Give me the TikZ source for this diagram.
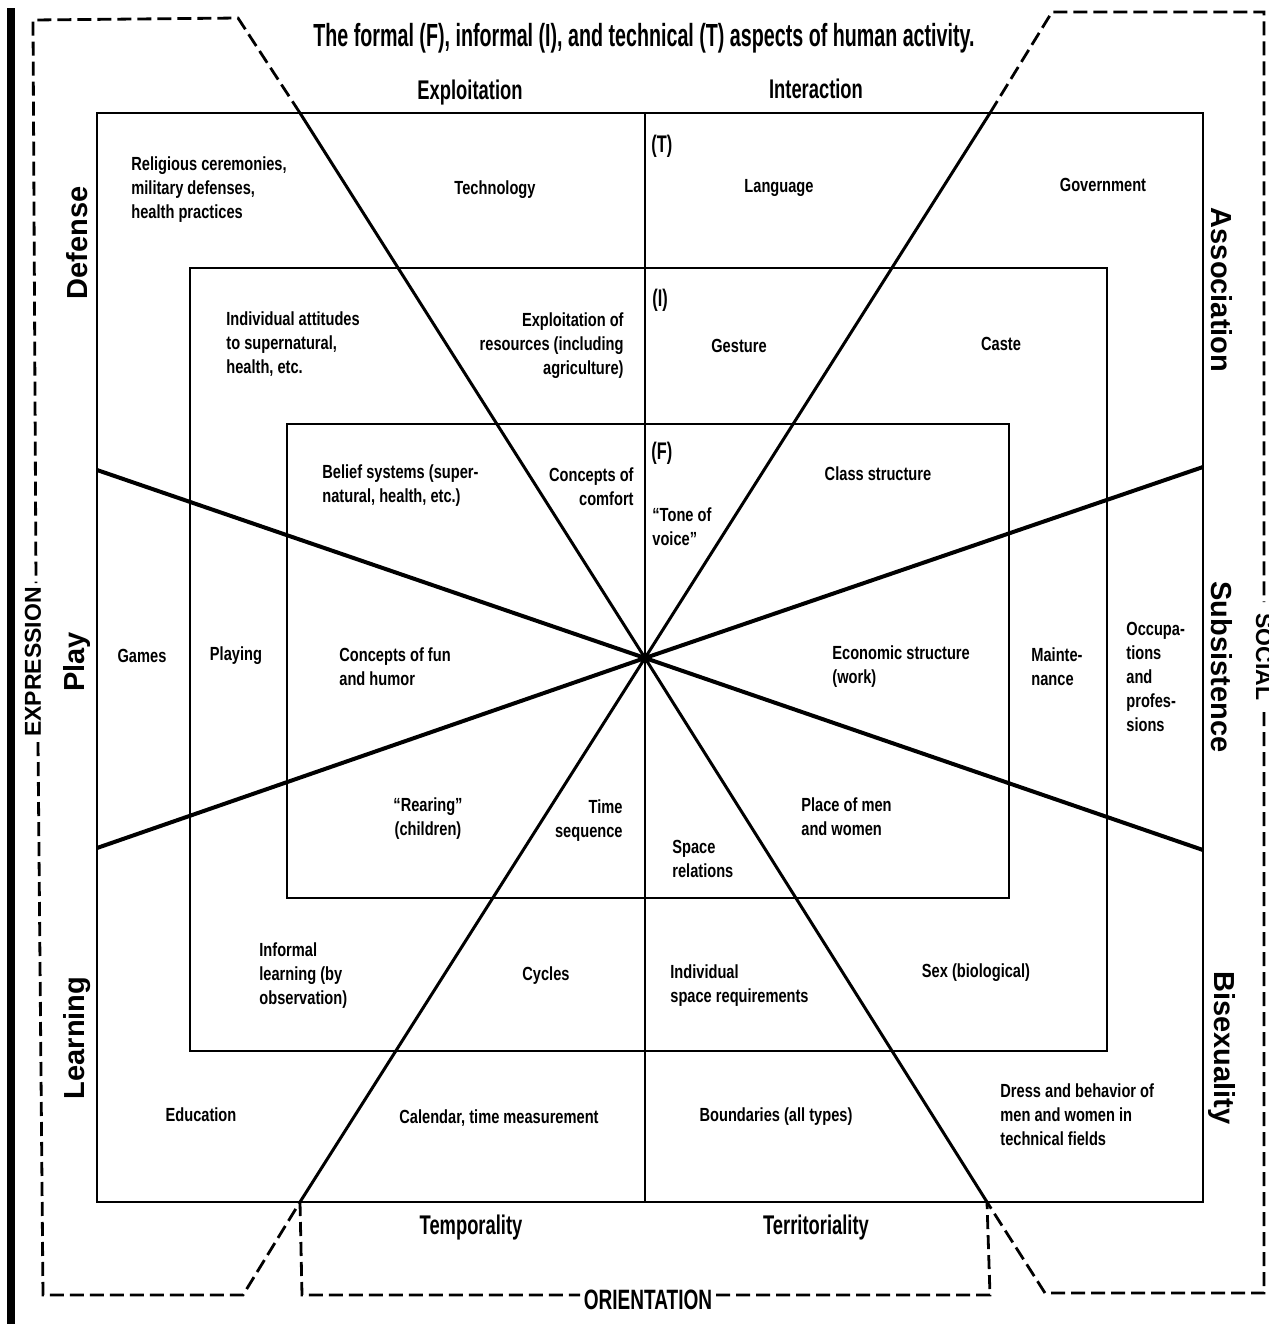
\documentclass[tikz,border=0pt]{standalone}
\usepackage{fontspec}
\setmainfont{Liberation Sans}
\newfontfamily\bodyf{Liberation Sans}[FakeStretch=0.77]
\newfontfamily\headf{Liberation Sans}[FakeStretch=0.68]
\newfontfamily\titlef{Liberation Sans}[FakeStretch=0.615]
\tikzset{
  bodytxt/.style={font=\bodyf\bfseries\fontsize{9.5}{12}\selectfont, inner sep=0pt, align=left},
  bodyright/.style={font=\bodyf\bfseries\fontsize{9.5}{12}\selectfont, inner sep=0pt, align=right},
  bodymid/.style={font=\bodyf\bfseries\fontsize{9.5}{12}\selectfont, inner sep=0pt, align=center},
  tagmark/.style={font=\headf\bfseries\fontsize{12}{14}\selectfont, inner sep=0pt},
  headlab/.style={font=\headf\bfseries\fontsize{13.5}{16}\selectfont, inner sep=0pt},
  sidelab/.style={font=\bfseries\fontsize{14.5}{16}\selectfont, inner sep=0pt},
  capslab/.style={font=\bfseries\fontsize{11.5}{14}\selectfont, inner sep=0pt},
  ringline/.style={line width=1.4pt},
  rayline/.style={line width=1.5pt},
  flatline/.style={line width=2pt},
  brkline/.style={line width=1.4pt, dash pattern=on 7pt off 3pt},
}
\begin{document}
\begin{tikzpicture}[x=0.5pt,y=-0.5pt]
\useasboundingbox (0,0) rectangle (1269,1324);
\fill[white] (0,0) rectangle (1269,1324);
% left black bar
\fill[black] (7,8) rectangle (15,1324);

% key coordinates
\coordinate (C) at (645,658);
\coordinate (R1a) at (300,113);
\coordinate (R1b) at (987,1202);
\coordinate (R2a) at (990,113);
\coordinate (R2b) at (300,1202);
\coordinate (F1a) at (97,470);
\coordinate (F1b) at (1203,850);
\coordinate (F2a) at (97,848);
\coordinate (F2b) at (1203,467);
\coordinate (V1) at (645,113);
\coordinate (V2) at (645,1202);

% rings
\draw[ringline] (97,113) rectangle (1203,1202);
\draw[ringline] (190,268) rectangle (1107,1051);
\draw[ringline] (287,424) rectangle (1009,898);

% spokes
\draw[line width=1.3pt] (V1) -- (V2);
\draw[rayline] (R1a) -- (C) -- (R1b);
\draw[rayline] (R2a) -- (C) -- (R2b);
\draw[flatline] (F1a) -- (C) -- (F1b);
\draw[flatline] (F2a) -- (C) -- (F2b);
\fill (C) circle (3);

% dashed brackets
\coordinate (tlk) at (238,18);
\coordinate (tl) at (33,20);
\coordinate (exTop) at (36,583);
\coordinate (exBot) at (38,742);
\coordinate (bl) at (43,1295);
\coordinate (blk) at (243,1295);
\coordinate (trk) at (1052,12);
\coordinate (tr) at (1264,12);
\coordinate (soTop) at (1264,602);
\coordinate (soBot) at (1264,712);
\coordinate (br) at (1264,1293);
\coordinate (brk) at (1045,1293);
\coordinate (ob1) at (302,1295);
\coordinate (orL) at (580,1295);
\coordinate (orR) at (716,1295);
\coordinate (ob2) at (990,1295);
\draw[brkline] (R1a) -- (tlk) -- (tl) -- (exTop);
\draw[brkline] (exBot) -- (bl) -- (blk) -- (R2b);
\draw[brkline] (R2a) -- (trk) -- (tr) -- (soTop);
\draw[brkline] (soBot) -- (br) -- (brk) -- (R1b);
\draw[brkline] (R2b) -- (ob1) -- (orL);
\draw[brkline] (orR) -- (ob2) -- (R1b);

% outer labels
\node[font=\titlef\bfseries\fontsize{16}{18}\selectfont, inner sep=0pt] (title) at (644,38) {The formal (F), informal (I), and technical (T) aspects of human activity.};
\node[headlab] (exploit) at (470,93) {Exploitation};
\node[headlab] (interact) at (816,89) {Interaction};
\node[headlab] (tempo) at (471,1228) {Temporality};
\node[headlab] (terri) at (816,1228) {Territoriality};
\node[font=\headf\bfseries\fontsize{14}{16}\selectfont, inner sep=0pt] (orient) at (648,1300) {ORIENTATION};
\node[sidelab, rotate=90] (defense) at (77,243) {Defense};
\node[sidelab, rotate=90] (play) at (77,662) {Play};
\node[sidelab, rotate=90] (learning) at (77,1038) {Learning};
\node[sidelab, rotate=-90] (assoc) at (1222,290) {Association};
\node[sidelab, rotate=-90] (subsist) at (1222,667) {Subsistence};
\node[sidelab, rotate=-90] (bisex) at (1222,1048) {Bisexuality};
\node[capslab, rotate=90] (express) at (33,662) {EXPRESSION};
\node[capslab, rotate=-90, anchor=base] (social) at (1256,657) {SOCIAL};

% outer ring (T)
\node[bodytxt, anchor=west] (relig) at (131,190) {Religious ceremonies,\\military defenses,\\health practices};
\node[bodytxt] (techn) at (495,190) {Technology};
\node[tagmark, anchor=west] (Tmark) at (651,146) {(T)};
\node[bodytxt] (lang) at (779,188) {Language};
\node[bodytxt] (govt) at (1103,185) {Government};
\node[bodytxt] (games) at (142,656) {Games};
\node[bodytxt, anchor=west] (occup) at (1126,677) {Occupa-\\tions\\and\\profes-\\sions};
\node[bodytxt] (educ) at (201,1115) {Education};
\node[bodytxt] (calen) at (499,1118) {Calendar, time measurement};
\node[bodytxt] (bound) at (776,1117) {Boundaries (all types)};
\node[bodytxt, anchor=west] (dress) at (1000,1115) {Dress and behavior of\\men and women in\\technical fields};

% middle ring (I)
\node[bodytxt, anchor=west] (indatt) at (226,344) {Individual attitudes\\to supernatural,\\health, etc.};
\node[bodyright, anchor=east] (exres) at (624,346) {Exploitation of\\resources (including\\agriculture)};
\node[tagmark, anchor=west] (Imark) at (652,300) {(I)};
\node[bodytxt] (gest) at (739,346) {Gesture};
\node[bodytxt] (caste) at (1001,344) {Caste};
\node[bodytxt] (playing) at (236,656) {Playing};
\node[bodytxt, anchor=west] (maint) at (1031,667) {Mainte-\\nance};
\node[bodytxt, anchor=west] (inflearn) at (259,976) {Informal\\learning (by\\observation)};
\node[bodytxt] (cycles) at (546,976) {Cycles};
\node[bodytxt, anchor=west] (indspace) at (670,986) {Individual\\space requirements};
\node[bodytxt] (sexbio) at (976,973) {Sex (biological)};

% inner ring (F)
\node[bodytxt, anchor=west] (belief) at (322,486) {Belief systems (super-\\natural, health, etc.)};
\node[bodyright, anchor=east] (comfort) at (634,487) {Concepts of\\comfort};
\node[tagmark, anchor=west] (Fmark) at (651,453) {(F)};
\node[bodytxt, anchor=west] (tone) at (652,527) {“Tone of\\voice”};
\node[bodytxt] (class) at (878,474) {Class structure};
\node[bodytxt, anchor=west] (fun) at (339,667) {Concepts of fun\\and humor};
\node[bodytxt, anchor=west] (econ) at (832,667) {Economic structure\\(work)};
\node[bodymid] (rearing) at (428,819) {“Rearing”\\(children)};
\node[bodyright, anchor=east] (timeseq) at (623,821) {Time\\sequence};
\node[bodytxt, anchor=west] (spacerel) at (672,859) {Space\\relations};
\node[bodytxt, anchor=west] (place) at (801,817) {Place of men\\and women};
\end{tikzpicture}
\end{document}
